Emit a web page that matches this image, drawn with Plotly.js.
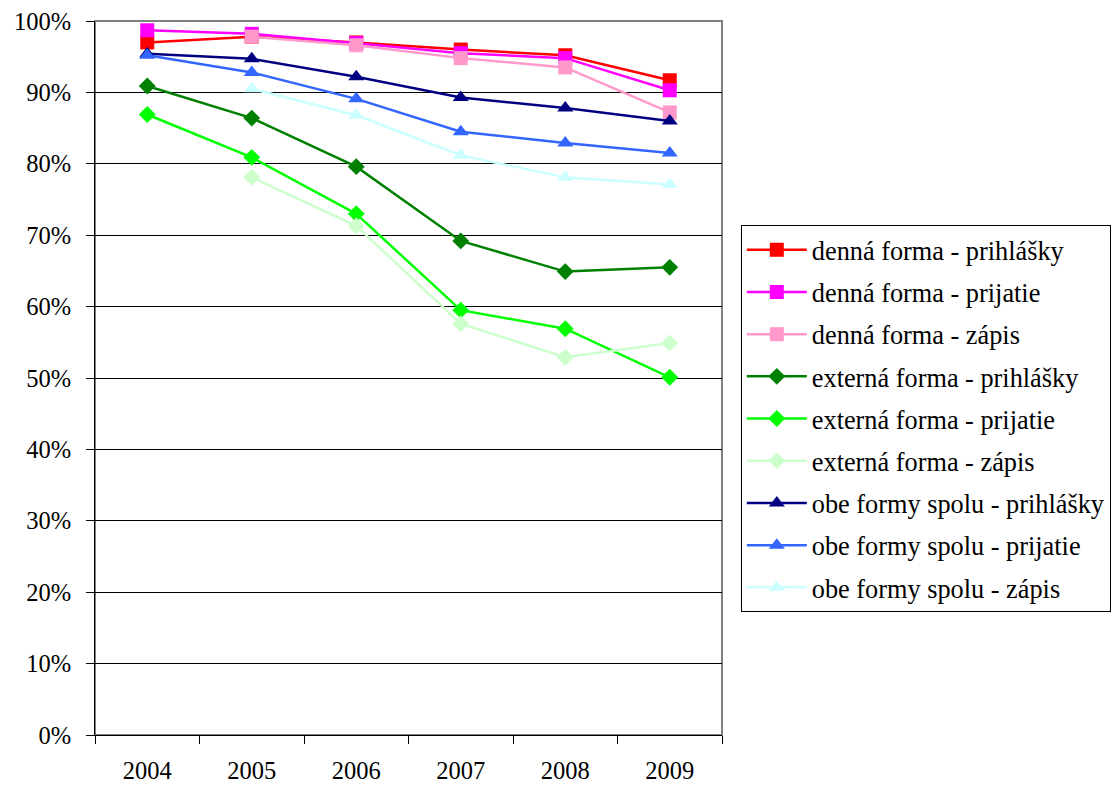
<!DOCTYPE html>
<html>
<head>
<meta charset="utf-8">
<script src="https://cdn.plot.ly/plotly-3.0.1.min.js"></script>
<style>html,body{margin:0;padding:0;background:#fff;}#chart{width:1111px;height:786px;}</style>
</head>
<body>
<div id="chart"></div>
<script>
const years = ['2004','2005','2006','2007','2008','2009'];
const dennaPrihlasky = [0.970, 0.978, 0.970, 0.960, 0.952, 0.917];
const dennaPrijatie  = [0.987, 0.982, 0.969, 0.955, 0.948, 0.903];
const dennaZapis     = [null, 0.978, 0.966, 0.948, 0.935, 0.872];
const externaPrihlasky = [0.909, 0.864, 0.796, 0.692, 0.649, 0.655];
const externaPrijatie  = [0.869, 0.809, 0.730, 0.595, 0.569, 0.501];
const externaZapis     = [null, 0.781, 0.713, 0.576, 0.529, 0.549];
const obePrihlasky = [0.954, 0.947, 0.922, 0.893, 0.878, 0.860];
const obePrijatie  = [0.952, 0.928, 0.891, 0.845, 0.829, 0.815];
const obeZapis     = [null, 0.905, 0.868, 0.812, 0.781, 0.771];

const seriesNames = [
  'denná forma - prihlášky','denná forma - prijatie','denná forma - zápis',
  'externá forma - prihlášky','externá forma - prijatie','externá forma - zápis',
  'obe formy spolu - prihlášky','obe formy spolu - prijatie','obe formy spolu - zápis'
];
const seriesValues = [dennaPrihlasky, dennaPrijatie, dennaZapis, externaPrihlasky, externaPrijatie, externaZapis, obePrihlasky, obePrijatie, obeZapis];
const colors = ['#FF0000','#FF00FF','#FF99CC','#008000','#00FF00','#CCFFCC','#000080','#3366FF','#CCFFFF'];
const symbols = ['square','square','square','diamond','diamond','diamond','triangle-up','triangle-up','triangle-up'];

const traces = seriesNames.map((n,i)=>({
  type:'scatter', mode:'lines+markers', name:n, x:years, y:seriesValues[i],
  legendgroup:'g'+i,
  line:{color:colors[i], width:2.5},
  marker:{color:colors[i], symbol:symbols[i], size: symbols[i]==='diamond'?13:14, line:{width:0}},
  connectgaps:false
}));

const fam = 'Liberation Serif, Times New Roman, serif';
const tickFont = {family:fam, size:24.5, color:'#000'};
const legFont = {family:fam, size:26.3, color:'#000'};
const layout = {
  width:1111, height:786,
  margin:{l:95, r:389, t:21, b:51, autoexpand:false},
  paper_bgcolor:'#fff', plot_bgcolor:'#fff',
  font:tickFont,
  showlegend:true,
  legend:{x:1.03, xanchor:'left', y:0.714, yanchor:'top', bordercolor:'#000', borderwidth:1,
          font:legFont, tracegroupgap:5, itemwidth:60, bgcolor:'#fff'},
  xaxis:{type:'category', range:[-0.5,5.5], tickson:'boundaries', ticks:'outside', ticklen:8,
         tickcolor:'#000', showline:true, linecolor:'#000', linewidth:1, showgrid:false,
         ticklabelstandoff:14, tickfont:tickFont, fixedrange:true},
  yaxis:{range:[0,1], dtick:0.1, tickformat:'.0%', ticks:'outside', ticklen:8, tickcolor:'#000',
         showline:true, linecolor:'#000', linewidth:1, showgrid:true, gridcolor:'#000', gridwidth:1,
         zeroline:false, tickfont:tickFont, ticklabelstandoff:10, fixedrange:true},
  shapes:[{type:'rect', xref:'paper', yref:'paper', x0:0, x1:1, y0:0, y1:1, line:{color:'#808080', width:2}, layer:'below'}]
};
Plotly.newPlot('chart', traces, layout, {displayModeBar:false, staticPlot:true});
</script>
</body>
</html>
